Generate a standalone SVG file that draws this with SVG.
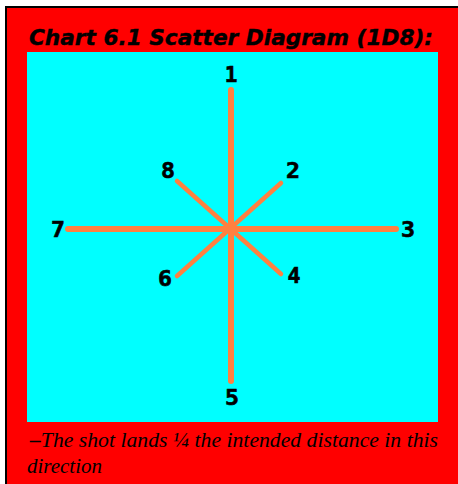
<svg xmlns="http://www.w3.org/2000/svg" width="458" height="484" viewBox="0 0 458 484">
<style>
.ray{stroke:#ff8040;stroke-linecap:round;fill:none}
.main{stroke-width:6}
.diag{stroke-width:4.5}
.lbl{font-family:"DejaVu Sans Mono",monospace;font-weight:bold;font-size:21px;fill:#000;text-anchor:middle;stroke:#000;stroke-width:0.6}
.title{font-family:"DejaVu Sans","Liberation Sans",sans-serif;font-weight:bold;font-style:italic;font-size:22px;fill:#000;stroke:#000;stroke-width:0.4}
.note{font-family:"Liberation Serif",serif;font-style:italic;font-size:21px;fill:#000}
</style>
<rect x="0" y="0" width="458" height="484" fill="#ffffff"/>
<rect x="5" y="6" width="460" height="490" fill="#000"/>
<rect x="7" y="8" width="460" height="490" fill="#ff0000"/>
<text class="title" x="29" y="45" textLength="404" lengthAdjust="spacingAndGlyphs">Chart 6.1 Scatter Diagram (1D8):</text>
<rect x="27" y="52" width="411" height="370" fill="#00ffff"/>
<g id="connectors">
<line class="ray main" x1="231" y1="90" x2="231" y2="381"/>
<line class="ray main" x1="68" y1="229" x2="396" y2="229"/>
<line class="ray diag" x1="177" y1="181" x2="281" y2="274"/>
<line class="ray diag" x1="281" y1="183" x2="177" y2="276"/>
</g>
<g id="n1"><text class="lbl" x="231" y="82">1</text></g>
<g id="n2"><text class="lbl" x="293" y="178" textLength="14" lengthAdjust="spacingAndGlyphs">2</text></g>
<g id="n3"><text class="lbl" x="408" y="237" textLength="14" lengthAdjust="spacingAndGlyphs">3</text></g>
<g id="n4"><text class="lbl" x="294" y="283" textLength="13" lengthAdjust="spacingAndGlyphs">4</text></g>
<g id="n5"><text class="lbl" x="232" y="405" textLength="14" lengthAdjust="spacingAndGlyphs">5</text></g>
<g id="n6"><text class="lbl" x="165" y="286" textLength="14" lengthAdjust="spacingAndGlyphs">6</text></g>
<g id="n7"><text class="lbl" x="58" y="237" textLength="14" lengthAdjust="spacingAndGlyphs">7</text></g>
<g id="n8"><text class="lbl" x="168" y="178" textLength="14" lengthAdjust="spacingAndGlyphs">8</text></g>
<text class="note" x="30" y="447" textLength="408" lengthAdjust="spacingAndGlyphs"><tspan font-weight="bold">–</tspan>The shot lands ¼ the intended distance in this</text>
<text class="note" x="27" y="473">direction</text>
</svg>
